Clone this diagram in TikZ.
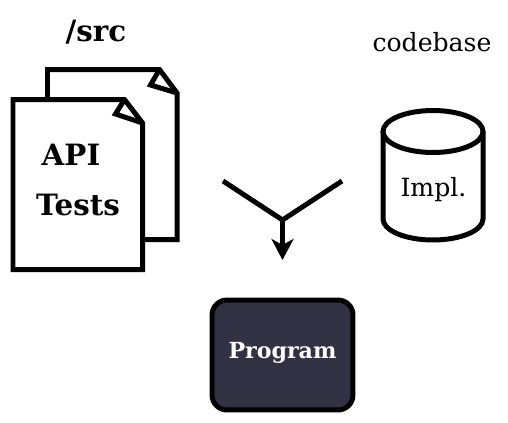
\documentclass[tikz,border=0pt]{standalone}
\usepackage{fontspec}
\setmainfont{DejaVu Serif}
\usetikzlibrary{arrows.meta}
\definecolor{progfill}{HTML}{333144}
\tikzset{
  heavy/.style={draw,line width=0.1cm,line join=miter},
  bigtext/.style={font=\fontsize{16.7}{20}\selectfont\bfseries,inner sep=0pt},
  plaintext/.style={font=\fontsize{14.3}{16}\selectfont,inner sep=0pt},
}
\begin{document}
\begin{tikzpicture}[x=0.02cm,y=-0.02cm]
\useasboundingbox (0,0) rectangle (508,423);

% back page
\draw[heavy] (47.5,99) -- (47.5,69.5) -- (159.5,69.5) -- (177,93) -- (177,239.5) -- (143,239.5);
\draw[heavy] (159.5,69.5) -- (150.5,85) -- (177,93);
% front page
\draw[heavy,fill=white] (13,99.5) -- (124.5,99.5) -- (142.5,123) -- (142.5,269.5) -- (13,269.5) -- cycle;
\draw[heavy] (124.5,99.5) -- (115.5,114) -- (142.5,123);

% cylinder
\draw[heavy] (383,131.5) -- (383,219) arc[start angle=180,end angle=360,x radius=50,y radius=-21] -- (483,131.5);
\draw[heavy] (433,131.5) ellipse[x radius=50,y radius=21];

\node[bigtext] (src) at (96,32) {/src};
\node[bigtext] (api) at (71,155) {API};
\node[bigtext] (tests) at (78,205) {Tests};
\node[plaintext] (codebase) at (432,42) {codebase};
\node[plaintext] (impl) at (433.5,189.5) {Impl.};

\node[heavy,fill=progfill,rounded corners=0.3cm,minimum width=2.82cm,minimum height=2.2cm,inner sep=0pt,
  text height=0.4cm,text depth=0.28cm,
  text=white,font=\fontsize{12.6}{15}\selectfont\bfseries] (program) at (282.5,355) {Program};

\coordinate (left) at (223,181);
\coordinate (right) at (342,181);
\coordinate (join) at (282.5,220);
\coordinate (tip) at (282.5,260);
\draw[heavy] (left) -- (join) -- (right);
\draw[heavy,-{Stealth[length=0.42cm,width=0.44cm,inset=0.12cm]}] (join) -- (tip);
\end{tikzpicture}
\end{document}
